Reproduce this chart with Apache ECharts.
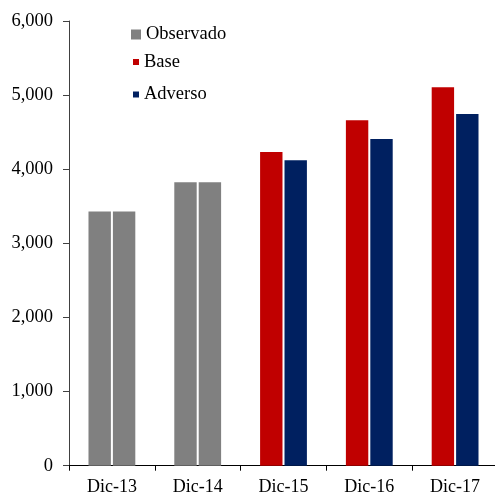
<!DOCTYPE html>
<html>
<head>
<meta charset="utf-8">
<script src="https://cdn.jsdelivr.net/npm/echarts@6/dist/echarts.min.js"></script>
<style>
  html, body { margin: 0; padding: 0; background: #fff; }
  #chart { width: 495px; height: 493px; }
</style>
</head>
<body>
<div id="chart"></div>
<script>
// 数据
const categories = ['Dic-13', 'Dic-14', 'Dic-15', 'Dic-16', 'Dic-17']
const observado = [3430, 3825, null, null, null]
const base = [null, null, 4233, 4661, 5106]
const adverso = [null, null, 4121, 4409, 4746]

const font = 'Liberation Serif, Times New Roman, serif'
const barW = 22.4

const chart = echarts.init(document.getElementById('chart'))

const legendCommon = {
  orient: 'vertical',
  left: 131,
  padding: 0,
  itemGap: 0,
  selectedMode: false,
  textStyle: { fontFamily: font, fontSize: 18.5, color: '#000', lineHeight: 18 }
}

const option = {
  animation: false,
  legend: [
    { ...legendCommon, top: 25, itemWidth: 10, itemHeight: 10, data: [{ name: 'Observado', icon: 'rect' }] },
    { ...legendCommon, top: 52.5, left: 133, itemWidth: 6, itemHeight: 6, data: [{ name: 'Base', icon: 'rect' }] },
    { ...legendCommon, top: 85, left: 133, itemWidth: 6, itemHeight: 6, data: [{ name: 'Adverso', icon: 'rect' }] }
  ],
  grid: { left: 69, top: 21, width: 429, bottom: 27.3, containLabel: false, outerBoundsMode: 'none' },
  xAxis: {
    type: 'category',
    data: categories,
    axisLine: { lineStyle: { color: '#000', width: 1 } },
    axisTick: { show: true, length: 5, lineStyle: { color: '#000' } },
    axisLabel: { fontFamily: font, fontSize: 18, color: '#000', margin: 13 }
  },
  yAxis: {
    type: 'value',
    min: 0,
    max: 6000,
    interval: 1000,
    splitLine: { show: false },
    axisLine: { show: true, lineStyle: { color: '#404040', width: 1 } },
    axisTick: { show: true, length: 6, lineStyle: { color: '#404040' } },
    axisLabel: {
      fontFamily: font, fontSize: 18.5, color: '#000', margin: 16,
      formatter: v => v.toLocaleString('en-US')
    }
  },
  series: [
    { name: 'Observado', type: 'bar', stack: 'b', data: observado, barWidth: barW, barGap: '9%', itemStyle: { color: '#808080' } },
    { name: 'Observado', type: 'bar', stack: 'a', data: observado, barWidth: barW, barGap: '9%', itemStyle: { color: '#808080' } },
    { name: 'Base', type: 'bar', stack: 'b', data: base, barWidth: barW, barGap: '9%', itemStyle: { color: '#C00000' } },
    { name: 'Adverso', type: 'bar', stack: 'a', data: adverso, barWidth: barW, barGap: '9%', itemStyle: { color: '#002060' } }
  ]
}

chart.setOption(option)
</script>
</body>
</html>
